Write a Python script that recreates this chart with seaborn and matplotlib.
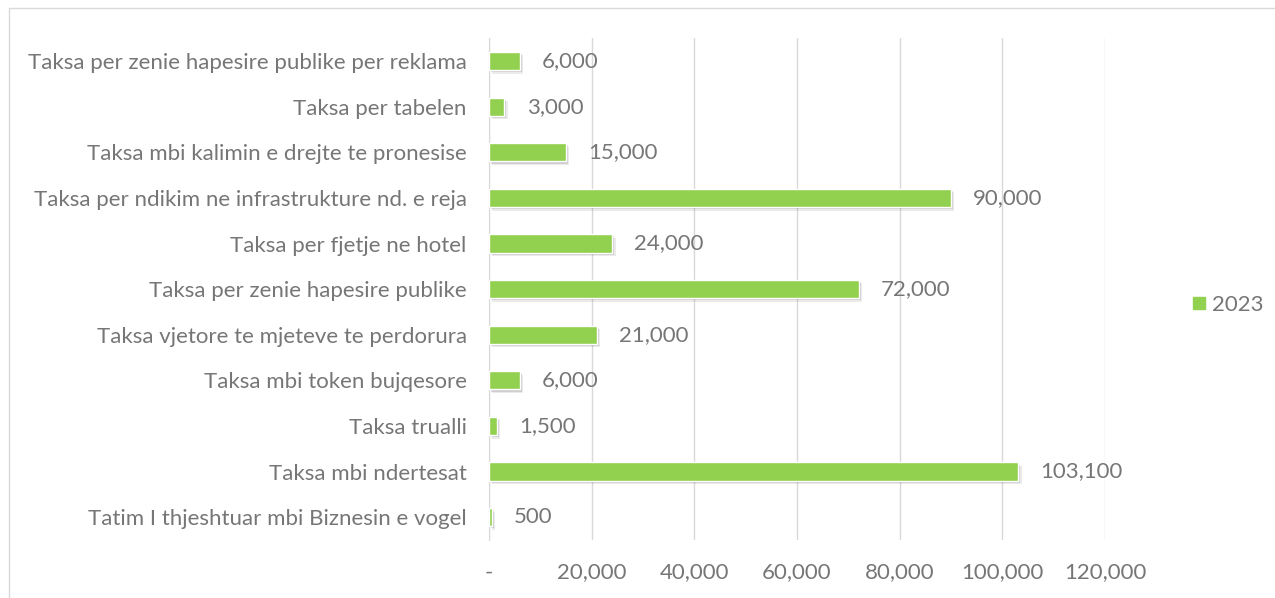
import matplotlib
matplotlib.use("Agg")
import matplotlib.pyplot as plt
import matplotlib.patheffects as pe
from matplotlib.patches import Rectangle
from matplotlib.lines import Line2D
import seaborn as sns
import pandas as pd

# te dhenat
kategorite = [
    "Taksa per zenie hapesire publike per reklama",
    "Taksa per tabelen",
    "Taksa mbi kalimin e drejte te pronesise",
    "Taksa per ndikim ne infrastrukture nd. e reja",
    "Taksa per fjetje ne hotel",
    "Taksa per zenie hapesire publike",
    "Taksa vjetore te mjeteve te perdorura",
    "Taksa mbi token bujqesore",
    "Taksa trualli",
    "Taksa mbi ndertesat",
    "Tatim I thjeshtuar mbi Biznesin e vogel",
]
vlerat_2023 = [6000, 3000, 15000, 90000, 24000, 72000, 21000, 6000, 1500, 103100, 500]
x_ticks = [0, 20000, 40000, 60000, 80000, 100000, 120000]
x_labels = ["-", "20,000", "40,000", "60,000", "80,000", "100,000", "120,000"]

df = pd.DataFrame({"kategoria": kategorite, "vlera": vlerat_2023})

sns.set_style("white")
plt.rcParams["font.family"] = ["Lato", "DejaVu Sans"]
gri = "#767676"
jeshile = "#92D050"
fs = 16

fig = plt.figure(figsize=(12.75, 5.98), dpi=100)
ax = fig.add_axes([0.3835, 0.097, 0.8667 - 0.3835, 0.936 - 0.097])

sns.barplot(data=df, x="vlera", y="kategoria", color=jeshile, width=0.4,
            saturation=1, ax=ax, zorder=3)
for p in ax.patches:
    p.set_path_effects([
        pe.SimplePatchShadow(offset=(2.5, -2.5), shadow_rgbFace="#000000", alpha=0.08),
        pe.SimplePatchShadow(offset=(1.5, -1.5), shadow_rgbFace="#000000", alpha=0.12),
        pe.Normal(),
    ])

for i, v in enumerate(vlerat_2023):
    ax.annotate(f"{v:,}", xy=(v, i), xytext=(16, 0), textcoords="offset points",
                va="center", ha="left", fontsize=fs, color=gri, zorder=5)

ax.set_xlim(0, 120000)
ax.set_xticks(x_ticks)
ax.set_xticklabels(x_labels)
ax.grid(axis="x", color="#D9D9D9", linewidth=1, zorder=0)
ax.set_xlabel("")
ax.set_ylabel("")
for s in ["top", "right", "bottom"]:
    ax.spines[s].set_visible(False)
ax.spines["left"].set_color("#D9D9D9")
ax.tick_params(axis="y", length=0, pad=16, labelsize=fs, labelcolor=gri)
ax.tick_params(axis="x", length=0, pad=16, labelsize=fs, labelcolor=gri)

handle = Line2D([], [], marker="s", linestyle="", color=jeshile, markersize=9)
fig.legend([handle], ["2023"], loc="center left", bbox_to_anchor=(0.916, 0.49),
           frameon=False, fontsize=fs, labelcolor=gri, handletextpad=0.1,
           handlelength=1)

fig.patches.append(Rectangle((9 / 1275, -0.01), 1.0, 1 - 8 / 598 + 0.01,
                             transform=fig.transFigure, fill=False,
                             edgecolor="#D9D9D9", linewidth=1))

fig.savefig("out.png", dpi=100)
